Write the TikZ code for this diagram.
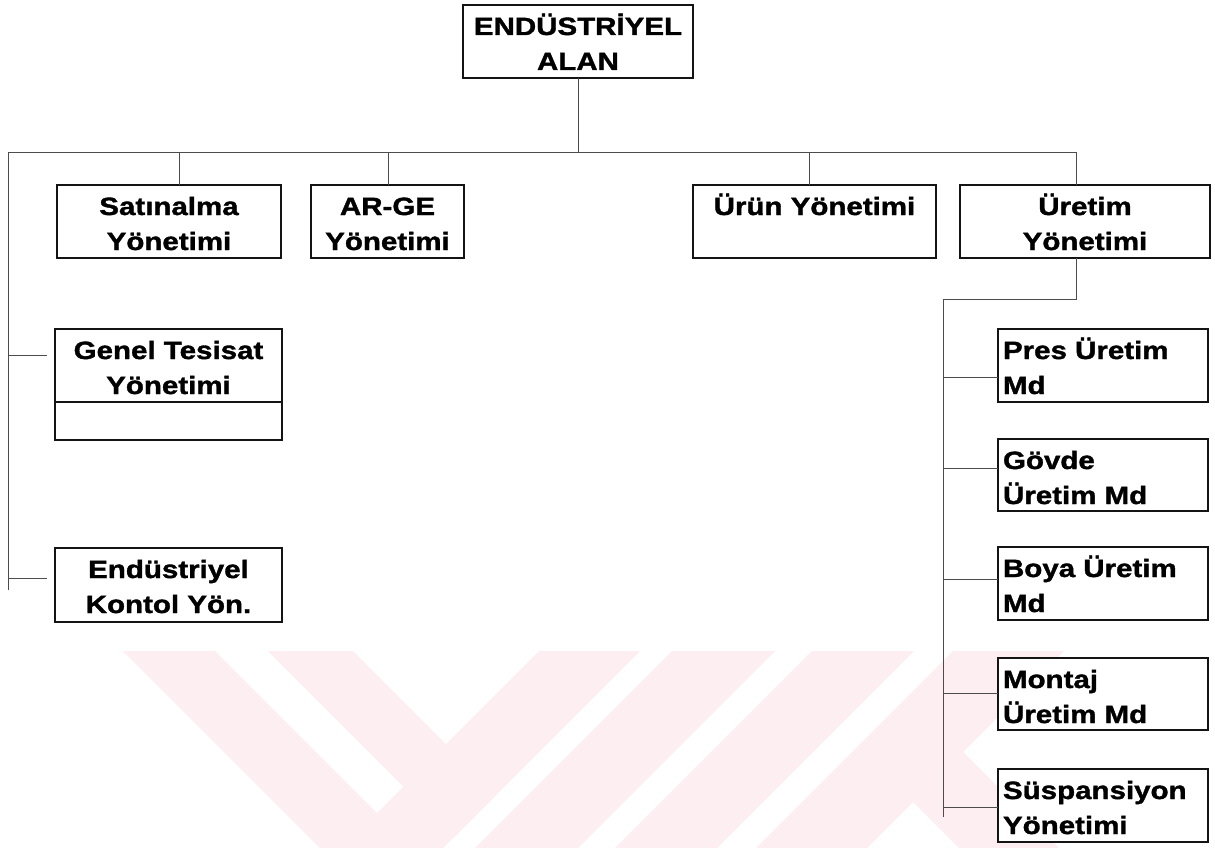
\documentclass[tikz,border=0pt]{standalone}
\usepackage{fontspec}
\setmainfont{Liberation Sans}[FakeStretch=1.18, BoldFeatures={FakeBold=1.4}]
\usetikzlibrary{calc}
\definecolor{wm}{RGB}{252,238,241}
\definecolor{ink}{RGB}{20,20,20}
% centred / left-aligned box contents: first baseline 30pt below the top
\newcommand\cbox[3]{\parbox[c][#2][t]{#1}{\centering\rule{0pt}{30pt}#3}}
\newcommand\lbox[3]{\parbox[c][#2][t]{#1}{\raggedright\leftskip=5pt\rule{0pt}{30pt}#3}}
\begin{document}
\begin{tikzpicture}[x=1pt,y=-1pt,
  unit/.style={draw=ink, line width=2.5pt, fill=white, inner sep=0pt, outer sep=0pt,
               font=\fontsize{25}{35}\selectfont\bfseries},
  link/.style={draw=black!70, line width=1pt}]
\useasboundingbox (0,0) rectangle (1215,848);

% faint striped emblem in the lower band
\fill[wm] (123,651) -- (215,651) -- (412,848) -- (320,848) -- cycle;
\fill[wm] (268,651) -- (353,651) -- (496.5,794.5) -- (454,837) -- cycle;
\fill[wm] (539,651) -- (640,651) -- (443,848) -- (342,848) -- cycle;
\fill[wm] (672,651) -- (775,651) -- (578,848) -- (475,848) -- cycle;
\fill[wm] (812,651) -- (914,651) -- (717,848) -- (615,848) -- cycle;
\fill[wm] (953,651) -- (1064,651) -- (867,848) -- (756,848) -- cycle;
\fill[wm] (913,802) -- (963,752) -- (1059,848) -- (959,848) -- cycle;

% units
\node[unit] (root)   at (578,41.5)   {\cbox{230pt}{73pt}{ENDÜSTRİYEL\\ALAN}};
\node[unit] (sat)    at (169,221.5)  {\cbox{224pt}{73pt}{Satınalma\\Yönetimi}};
\node[unit] (arge)   at (387.5,221.5){\cbox{153pt}{73pt}{AR-GE\\Yönetimi}};
\node[unit] (urun)   at (814.5,221.5){\cbox{243pt}{73pt}{Ürün Yönetimi}};
\node[unit] (uret)   at (1085,221.5) {\cbox{250pt}{73pt}{Üretim\\Yönetimi}};
\node[unit] (genel)  at (168.5,384.5){\cbox{227pt}{111pt}{Genel Tesisat\\Yönetimi}};
\node[unit] (endk)   at (168.5,585)  {\cbox{227pt}{74pt}{Endüstriyel\\Kontol Yön.}};
\node[unit] (pres)   at (1103,365.5) {\lbox{210pt}{73pt}{Pres Üretim\\Md}};
\node[unit] (govde)  at (1103,475)   {\lbox{210pt}{72pt}{Gövde\\Üretim Md}};
\node[unit] (boya)   at (1103,583.5) {\lbox{210pt}{73pt}{Boya Üretim\\Md}};
\node[unit] (montaj) at (1103,694)   {\lbox{210pt}{72pt}{Montaj\\Üretim Md}};
\node[unit] (susp)   at (1103,805.5) {\lbox{210pt}{73pt}{Süspansiyon\\Yönetimi}};

% empty lower compartment of the Genel Tesisat box
\draw[draw=ink, line width=2.5pt] ($(genel.north west)+(0,73)$) -- ($(genel.north east)+(0,73)$);

% main bus
\coordinate (bl) at (8,152);
\coordinate (br) at (1076,152);
\coordinate (lend) at (8,590);
\draw[link] (root.south) -- (root.south |- bl);
\draw[link] (lend) -- (bl) -- (br) -- (br |- uret.north);
\draw[link] (sat.north) ++(10,0) -- ++(0,-33);
\draw[link] (arge.north) ++(0.5,0) -- ++(0,-33);
\draw[link] (urun.north) ++(-5.5,0) -- ++(0,-33);

% left branches
\coordinate (tg) at (8,355);
\coordinate (te) at (8,578);
\draw[link, shorten >=8pt] (tg) -- (tg -| genel.west);
\draw[link, shorten >=8pt] (te) -- (te -| endk.west);

% production sub-tree
\coordinate (uk) at (1076,299);
\coordinate (rtop) at (943,299);
\coordinate (rbot) at (943,817);
\draw[link] (uret.south -| uk) -- (uk) -- (rtop) -- (rbot);
\coordinate (tp) at (943,377);
\coordinate (tv) at (943,468);
\coordinate (tb) at (943,579);
\coordinate (tm) at (943,693);
\coordinate (ts) at (943,807);
\draw[link] (tp) -- (tp -| pres.west);
\draw[link] (tv) -- (tv -| govde.west);
\draw[link] (tb) -- (tb -| boya.west);
\draw[link] (tm) -- (tm -| montaj.west);
\draw[link] (ts) -- (ts -| susp.west);
\end{tikzpicture}
\end{document}
